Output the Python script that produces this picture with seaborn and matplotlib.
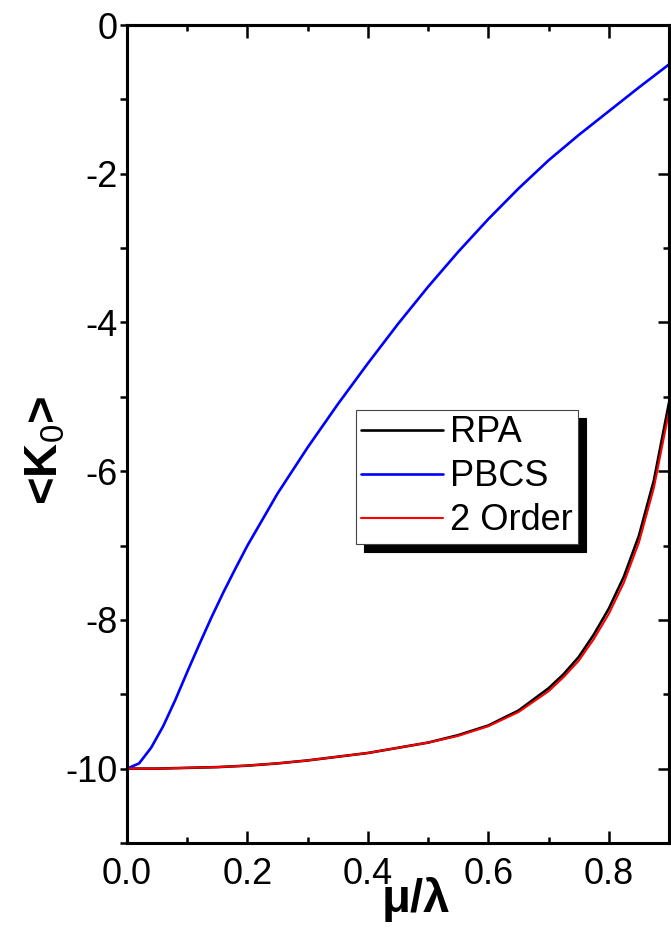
import numpy as np
import pandas as pd
import seaborn as sns
import matplotlib.pyplot as plt
from matplotlib.ticker import MultipleLocator

# dados
x_bcs = [0.0, 0.02, 0.04, 0.06, 0.08, 0.10, 0.12, 0.14, 0.16, 0.18, 0.20,
         0.25, 0.30, 0.35, 0.40, 0.45, 0.50, 0.55, 0.60, 0.65, 0.70,
         0.75, 0.80, 0.85, 0.90]
y_pbcs = [-10.0, -9.93, -9.72, -9.43, -9.08, -8.70, -8.33, -7.97, -7.63, -7.31, -7.00,
          -6.30, -5.68, -5.10, -4.55, -4.02, -3.52, -3.05, -2.61, -2.20, -1.82,
          -1.48, -1.16, -0.84, -0.53]

x_rpa = [0.0, 0.05, 0.10, 0.15, 0.20, 0.25, 0.30, 0.35, 0.40, 0.45, 0.50,
         0.55, 0.60, 0.65, 0.70, 0.725, 0.75, 0.775, 0.80, 0.825, 0.85, 0.875, 0.90]
y_rpa = [-10.0, -10.0, -9.99, -9.98, -9.96, -9.93, -9.89, -9.84, -9.79, -9.72, -9.65,
         -9.55, -9.42, -9.22, -8.92, -8.73, -8.50, -8.20, -7.85, -7.42, -6.87, -6.12, -5.08]
y_2ord = [-10.0, -10.0, -9.99, -9.98, -9.96, -9.93, -9.89, -9.84, -9.79, -9.72, -9.65,
          -9.56, -9.43, -9.24, -8.96, -8.77, -8.55, -8.26, -7.92, -7.50, -6.96, -6.22, -5.20]

df_rpa = pd.DataFrame({'x': x_rpa, 'y': y_rpa})
df_pbcs = pd.DataFrame({'x': x_bcs, 'y': y_pbcs})
df_2ord = pd.DataFrame({'x': x_rpa, 'y': y_2ord})

sns.set_style('ticks')
plt.rcParams['font.family'] = ['Liberation Sans', 'DejaVu Sans']
plt.rcParams['mathtext.fontset'] = 'custom'
plt.rcParams['mathtext.rm'] = 'Liberation Sans'
plt.rcParams['mathtext.it'] = 'Liberation Sans:italic'
plt.rcParams['mathtext.bf'] = 'Liberation Sans:bold'
plt.rcParams['axes.unicode_minus'] = False
plt.rcParams['text.color'] = 'black'
plt.rcParams['axes.labelcolor'] = 'black'

fig = plt.figure(figsize=(6.71, 9.33), dpi=100)
ax = fig.add_axes([0.1893, 0.0965, 0.8077, 0.8767])

sns.lineplot(data=df_rpa, x='x', y='y', color='black', linewidth=1.9, label='RPA', ax=ax)
sns.lineplot(data=df_pbcs, x='x', y='y', color='#0000ff', linewidth=1.9, label='PBCS', ax=ax)
sns.lineplot(data=df_2ord, x='x', y='y', color='#ff0000', linewidth=1.5, label='2 Order', ax=ax)

ax.set_xlim(0, 0.9)
ax.set_ylim(-11, 0)
ax.xaxis.set_minor_locator(MultipleLocator(0.1))
ax.yaxis.set_major_locator(MultipleLocator(2))
ax.yaxis.set_minor_locator(MultipleLocator(1))
ax.set_xticks([0.0, 0.2, 0.4, 0.6, 0.8])
ax.set_xticklabels(['0.0', '0.2', '0.4', '0.6', '0.8'])

for s in ax.spines.values():
    s.set_visible(True)
    s.set_linewidth(2.2)
    s.set_color('black')

ax.tick_params(axis='x', which='major', direction='in', length=9, width=1.8, labelsize=26,
               pad=10, color='black', labelcolor='black')
ax.tick_params(axis='x', which='minor', direction='in', length=4.5, width=1.8, color='black')
ax.tick_params(axis='y', which='both', direction='out', length=5, width=1.8, labelsize=26,
               pad=2, color='black', labelcolor='black')

# ticks do lado direito e de cima
sec_y = ax.secondary_yaxis('right')
sec_y.yaxis.set_major_locator(MultipleLocator(2))
sec_y.yaxis.set_minor_locator(MultipleLocator(1))
sec_y.tick_params(which='major', direction='in', length=8, width=1.8, labelright=False, color='black')
sec_y.tick_params(which='minor', direction='in', length=4.5, width=1.8, color='black')
sec_y.spines['right'].set_linewidth(2.2)
sec_x = ax.secondary_xaxis('top')
sec_x.xaxis.set_major_locator(MultipleLocator(0.2))
sec_x.xaxis.set_minor_locator(MultipleLocator(0.1))
sec_x.tick_params(which='major', direction='in', length=9, width=1.8, labeltop=False, color='black')
sec_x.tick_params(which='minor', direction='in', length=4.5, width=1.8, color='black')
sec_x.spines['top'].set_linewidth(2.2)

ax.set_xlabel('\u03bc/\u03bb', fontsize=34, fontweight='bold')
ax.xaxis.set_label_coords(0.533, -0.042)
ax.set_ylabel(r'<K$_{\mathrm{0}}$>', fontsize=34, fontweight='bold')
ax.yaxis.set_label_coords(-0.109, 0.48)

leg = ax.legend(loc='upper left', bbox_to_anchor=(0.4225, 0.5293), borderaxespad=0,
                fontsize=26, frameon=True, fancybox=False, handlelength=2.25,
                handletextpad=0.2, borderpad=0.15, labelspacing=0.25,
                shadow={'color': 'black', 'alpha': 1, 'ox': 5.5, 'oy': -5.5})
leg.get_frame().set_edgecolor('#444444')
leg.get_frame().set_linewidth(0.8)
leg.get_frame().set_alpha(1)

plt.savefig('out.png', dpi=100)
